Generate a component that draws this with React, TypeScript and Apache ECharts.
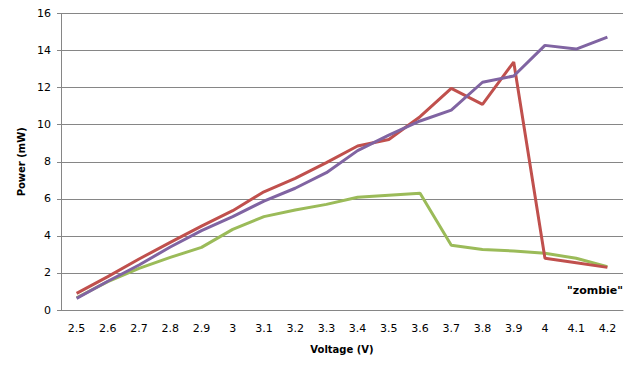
import React, { useEffect, useRef } from "react";
import * as echarts from "echarts";

const voltages = ["2.5", "2.6", "2.7", "2.8", "2.9", "3", "3.1", "3.2", "3.3", "3.4", "3.5", "3.6", "3.7", "3.8", "3.9", "4", "4.1", "4.2"];
const redSeries = [0.9, 1.8, 2.75, 3.65, 4.53, 5.36, 6.38, 7.1, 7.95, 8.85, 9.2, 10.43, 11.96, 11.1, 13.38, 2.79, 2.55, 2.3];
const purpleSeries = [0.63, 1.55, 2.43, 3.4, 4.28, 5.04, 5.88, 6.57, 7.41, 8.6, 9.44, 10.2, 10.79, 12.29, 12.63, 14.28, 14.08, 14.72];
const greenSeries = [0.66, 1.53, 2.25, 2.84, 3.38, 4.35, 5.04, 5.4, 5.7, 6.08, 6.19, 6.3, 3.49, 3.27, 3.18, 3.06, 2.79, 2.34];
const annotation = '"zombie"';

export default function App() {
  const ref = useRef<HTMLDivElement>(null);
  useEffect(() => {
    if (!ref.current) return;
    const chart = echarts.init(ref.current, null, { renderer: "svg" });
    const lineSeries = (data: number[], color: string) => ({
      type: "line",
      data,
      symbol: "none",
      lineStyle: { color, width: 3 },
      itemStyle: { color },
    });
    chart.setOption({
      animation: false,
      backgroundColor: "#ffffff",
      grid: { left: 61, right: 14, top: 13.5, bottom: 63 },
      xAxis: {
        type: "category",
        data: voltages,
        boundaryGap: true,
        name: "Voltage (V)",
        nameLocation: "middle",
        nameGap: 34,
        nameTextStyle: { fontFamily: "DejaVu Sans", fontWeight: "bold", fontSize: 10, color: "#000" },
        axisLine: { lineStyle: { color: "#868686", width: 1 } },
        axisTick: { show: false },
        axisLabel: { fontFamily: "DejaVu Sans", fontSize: 11, color: "#000", margin: 13 },
        splitLine: { show: false },
      },
      yAxis: {
        type: "value",
        min: 0,
        max: 16,
        interval: 2,
        name: "Power (mW)",
        nameLocation: "middle",
        nameGap: 30,
        nameRotate: 90,
        nameTextStyle: { fontFamily: "DejaVu Sans", fontWeight: "bold", fontSize: 10, color: "#000" },
        axisLine: { show: true, lineStyle: { color: "#868686", width: 1 } },
        axisTick: { show: true, length: 4, lineStyle: { color: "#868686" } },
        axisLabel: { fontFamily: "DejaVu Sans", fontSize: 11, color: "#000", margin: 10 },
        splitLine: { show: true, lineStyle: { color: "#868686", width: 1 } },
      },
      series: [
        lineSeries(greenSeries, "#9BBB59"),
        lineSeries(redSeries, "#C0504D"),
        lineSeries(purpleSeries, "#8064A2"),
      ],
      graphic: [
        {
          type: "text",
          right: 14,
          top: 285,
          style: {
            text: annotation,
            fontFamily: "DejaVu Sans",
            fontWeight: "bold",
            fontSize: 11,
            fill: "#000",
          },
        },
      ],
    });
    return () => chart.dispose();
  }, []);
  return (
    <div
      ref={ref}
      style={{ position: "fixed", left: 0, top: 0, width: 637, height: 373 }}
    />
  );
}
